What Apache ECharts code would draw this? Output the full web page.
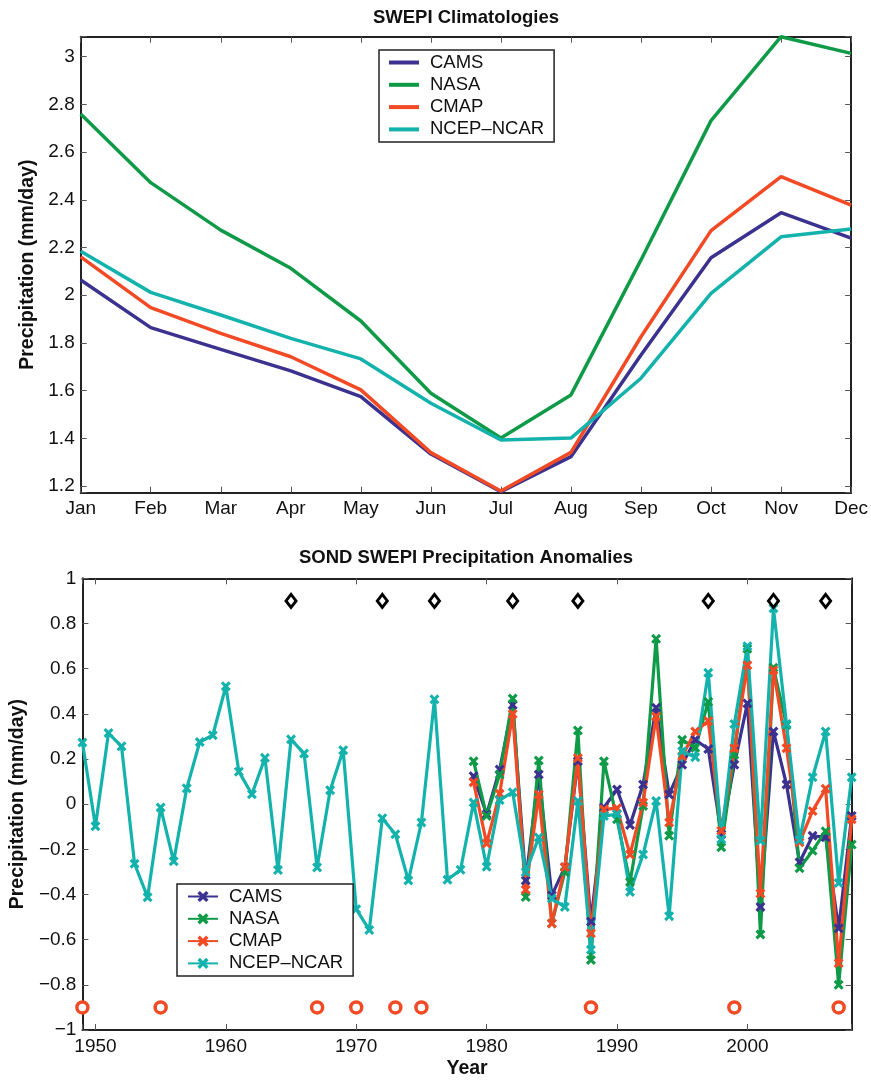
<!DOCTYPE html>
<html>
<head>
<meta charset="utf-8">
<script src="https://cdn.jsdelivr.net/npm/echarts@6.0.0/dist/echarts.min.js"></script>
<style>
  html, body { margin: 0; padding: 0; background: #fff; }
  #chart { width: 871px; height: 1080px; }
</style>
</head>
<body>
<div id="chart"></div>
<script>
// Datos
const months = ['Jan', 'Feb', 'Mar', 'Apr', 'May', 'Jun', 'Jul', 'Aug', 'Sep', 'Oct', 'Nov', 'Dec'];
const seriesNames = ['CAMS', 'NASA', 'CMAP', 'NCEP–NCAR'];
const colors = ['#3b318f', '#0f9a48', '#f24a25', '#14b2ac'];

// climatologias (mm/day)
const climCAMS = [2.064, 1.864, 1.773, 1.683, 1.575, 1.334, 1.176, 1.323, 1.749, 2.157, 2.346, 2.239];
const climNASA = [2.760, 2.472, 2.273, 2.113, 1.892, 1.589, 1.401, 1.582, 2.148, 2.732, 3.084, 3.014];
const climCMAP = [2.161, 1.948, 1.840, 1.742, 1.603, 1.340, 1.179, 1.341, 1.826, 2.271, 2.497, 2.378];
const climNCEP = [2.184, 2.012, 1.917, 1.819, 1.733, 1.547, 1.393, 1.401, 1.652, 2.008, 2.245, 2.278];

// anomalias SOND
const ncepStart = 1949;
const satStart = 1979;
const anomNCEP = [
  0.273, -0.098, 0.315, 0.256, -0.264, -0.412, -0.015, -0.253, 0.070, 0.275,
  0.305, 0.522, 0.144, 0.044, 0.205, -0.292, 0.287, 0.224, -0.280, 0.062,
  0.239, -0.465, -0.557, -0.062, -0.133, -0.338, -0.081, 0.464, -0.335, -0.291,
  0.007, -0.277, 0.018, 0.053, -0.301, -0.147, -0.418, -0.455, 0.014, -0.645,
  -0.052, -0.045, -0.389, -0.223, 0.014, -0.496, 0.234, 0.208, 0.582, -0.155,
  0.355, 0.699, -0.162, 0.867, 0.355, -0.159, 0.119, 0.322, -0.349, 0.119
];
const anomCAMS = [
  0.124, -0.045, 0.153, 0.439, -0.338, 0.131, -0.404, -0.279, 0.190, -0.520,
  -0.015, 0.065, -0.092, 0.087, 0.427, 0.043, 0.175, 0.285, 0.244, -0.133,
  0.175, 0.446, -0.455, 0.322, 0.087, -0.257, -0.140, -0.147, -0.550, -0.052
];
const anomNASA = [
  0.190, -0.052, 0.131, 0.468, -0.411, 0.193, -0.528, -0.300, 0.326, -0.690,
  0.190, -0.067, -0.345, -0.008, 0.732, -0.140, 0.285, 0.250, 0.453, -0.191,
  0.219, 0.688, -0.577, 0.604, 0.351, -0.284, -0.206, -0.120, -0.800, -0.179
];
const anomCMAP = [
  0.097, -0.174, 0.046, 0.399, -0.379, 0.043, -0.528, -0.279, 0.204, -0.572,
  -0.023, -0.018, -0.223, 0.007, 0.388, -0.081, 0.212, 0.322, 0.368, -0.118,
  0.248, 0.615, -0.396, 0.593, 0.248, -0.169, -0.030, 0.068, -0.704, -0.067
];

// marcas de anos
const diamondYears = [1965, 1972, 1976, 1982, 1987, 1997, 2002, 2006];
const diamondLevel = 0.9;
const circleYears = [1949, 1955, 1967, 1970, 1973, 1975, 1988, 1999, 2007];
const circleLevel = -0.9;

const font = 'Liberation Sans, Arial, Helvetica, sans-serif';
const xMark = 'path://M0,2.2 L2.2,0 L5,2.8 L7.8,0 L10,2.2 L7.2,5 L10,7.8 L7.8,10 L5,7.2 L2.2,10 L0,7.8 L2.8,5 Z';

function pairs(start, values) {
  return values.map(function (v, i) { return [start + i, v]; });
}
function stepLabel(step) {
  return function (v) {
    if (Math.abs(v / step - Math.round(v / step)) > 1e-6) return '';
    let s = String(parseFloat(v.toFixed(1)));
    return s.replace('-', '\u2212');
  };
}

let chart = echarts.init(document.getElementById('chart'));

const axisLine = { show: true, onZero: false, lineStyle: { color: '#222', width: 2 } };
const axisTick = { show: true, inside: true, length: 6, lineStyle: { color: '#555', width: 1 } };
const labelStyle = { fontSize: 19, color: '#111', fontFamily: font };
const nameStyle = { fontSize: 19.5, fontWeight: 'bold', color: '#111', fontFamily: font };

function legendBox(left, top, data, itemHeight) {
  return {
    left: left,
    top: top,
    orient: 'vertical',
    data: data,
    formatter: function (n) { return n.trim(); },
    selectedMode: false,
    padding: [3, 10, 3, 10],
    itemGap: 3.3,
    itemWidth: 30,
    itemHeight: itemHeight,
    borderColor: '#222',
    borderWidth: 1.5,
    borderRadius: 0,
    backgroundColor: '#fff',
    textStyle: { fontSize: 18.5, color: '#111', fontFamily: font, padding: [0, 0, 0, 6] },
  };
}

let option = {
  animation: false,
  backgroundColor: '#fff',
  textStyle: { fontFamily: font },
  title: [
    {
      text: 'SWEPI Climatologies',
      left: 466, top: 8, padding: 0, textAlign: 'center',
      textStyle: { fontSize: 18.5, fontWeight: 'bold', color: '#111', fontFamily: font },
    },
    {
      text: 'SOND SWEPI Precipitation Anomalies',
      left: 466, top: 548, padding: 0, textAlign: 'center',
      textStyle: { fontSize: 18.5, fontWeight: 'bold', color: '#111', fontFamily: font },
    },
  ],
  legend: [
    legendBox(379, 50, seriesNames.map(function (n) { return { name: n, icon: 'rect' }; }), 4),
    legendBox(177, 884, seriesNames.map(function (n) { return n + ' '; }), 14),
  ],
  grid: [
    { left: 80.7, top: 36.7, width: 771, height: 456, show: false },
    { left: 80.7, top: 578.3, width: 771, height: 456, show: false },
  ],
  xAxis: [
    {
      gridIndex: 0, type: 'category', data: months, boundaryGap: false, position: 'bottom',
      axisLine: axisLine, axisTick: Object.assign({ interval: 0 }, axisTick),
      axisLabel: Object.assign({ interval: 0, margin: 7 }, labelStyle),
      splitLine: { show: false },
    },
    {
      gridIndex: 0, type: 'category', data: months, boundaryGap: false, position: 'top',
      axisLine: axisLine, axisTick: Object.assign({ interval: 0 }, axisTick),
      axisLabel: { show: false }, splitLine: { show: false },
    },
    {
      gridIndex: 1, type: 'value', min: 1949, max: 2008, minInterval: 10, maxInterval: 10,
      position: 'bottom', axisLine: axisLine, axisTick: axisTick,
      axisLabel: Object.assign({ margin: 7, formatter: function (v) { return v % 10 === 0 ? String(v) : ''; } }, labelStyle),
      splitLine: { show: false },
      name: 'Year', nameLocation: 'middle', nameGap: 29, nameTextStyle: nameStyle,
    },
    {
      gridIndex: 1, type: 'value', min: 1949, max: 2008, minInterval: 10, maxInterval: 10,
      position: 'top', axisLine: axisLine, axisTick: axisTick,
      axisLabel: { show: false }, splitLine: { show: false },
    },
  ],
  yAxis: [
    {
      gridIndex: 0, type: 'value', min: 1.172, max: 3.084, minInterval: 0.2, maxInterval: 0.2,
      position: 'left', axisLine: axisLine, axisTick: axisTick,
      axisLabel: Object.assign({ margin: 6, formatter: stepLabel(0.2) }, labelStyle),
      splitLine: { show: false },
      name: 'Precipitation (mm/day)', nameLocation: 'middle', nameRotate: 90, nameGap: 42,
      nameTextStyle: nameStyle,
    },
    {
      gridIndex: 0, type: 'value', min: 1.172, max: 3.084, minInterval: 0.2, maxInterval: 0.2,
      position: 'right', axisLine: axisLine, axisTick: axisTick,
      axisLabel: { show: false }, splitLine: { show: false },
    },
    {
      gridIndex: 1, type: 'value', min: -1, max: 1, interval: 0.2,
      position: 'left', axisLine: axisLine, axisTick: axisTick,
      axisLabel: Object.assign({ margin: 6, formatter: stepLabel(0.2) }, labelStyle),
      splitLine: { show: false },
      name: 'Precipitation (mm/day)', nameLocation: 'middle', nameRotate: 90, nameGap: 49,
      nameTextStyle: nameStyle,
    },
    {
      gridIndex: 1, type: 'value', min: -1, max: 1, interval: 0.2,
      position: 'right', axisLine: axisLine, axisTick: axisTick,
      axisLabel: { show: false }, splitLine: { show: false },
    },
  ],
  series: [],
};

// serie climatologia
[climCAMS, climNASA, climCMAP, climNCEP].forEach(function (vals, i) {
  option.series.push({
    name: seriesNames[i],
    type: 'line',
    xAxisIndex: 0, yAxisIndex: 0,
    data: vals,
    symbol: 'none',
    lineStyle: { color: colors[i], width: 3.5 },
    itemStyle: { color: colors[i] },
  });
});

// serie anomalias
[[satStart, anomCAMS], [satStart, anomNASA], [satStart, anomCMAP], [ncepStart, anomNCEP]].forEach(function (s, i) {
  option.series.push({
    name: seriesNames[i] + ' ',
    type: 'line',
    xAxisIndex: 2, yAxisIndex: 2,
    data: pairs(s[0], s[1]),
    symbol: xMark,
    symbolSize: 10,
    showAllSymbol: true,
    lineStyle: { color: colors[i], width: 3.2 },
    itemStyle: { color: colors[i] },
  });
});

option.series.push({
  name: 'diamonds',
  type: 'scatter',
  xAxisIndex: 2, yAxisIndex: 2,
  data: diamondYears.map(function (y) { return [y, diamondLevel]; }),
  symbol: 'diamond',
  symbolSize: [10, 13],
  itemStyle: { color: '#fff', borderColor: '#000', borderWidth: 3, opacity: 1 },
  z: 5,
});
option.series.push({
  name: 'circles',
  type: 'scatter',
  xAxisIndex: 2, yAxisIndex: 2,
  data: circleYears.map(function (y) { return [y, circleLevel]; }),
  symbol: 'circle',
  symbolSize: 11,
  itemStyle: { color: '#fff', borderColor: '#f24a25', borderWidth: 3.5, opacity: 1 },
  z: 5,
});

chart.setOption(option);

window.addEventListener('resize', function () {
  chart.resize();
});
</script>
</body>
</html>
